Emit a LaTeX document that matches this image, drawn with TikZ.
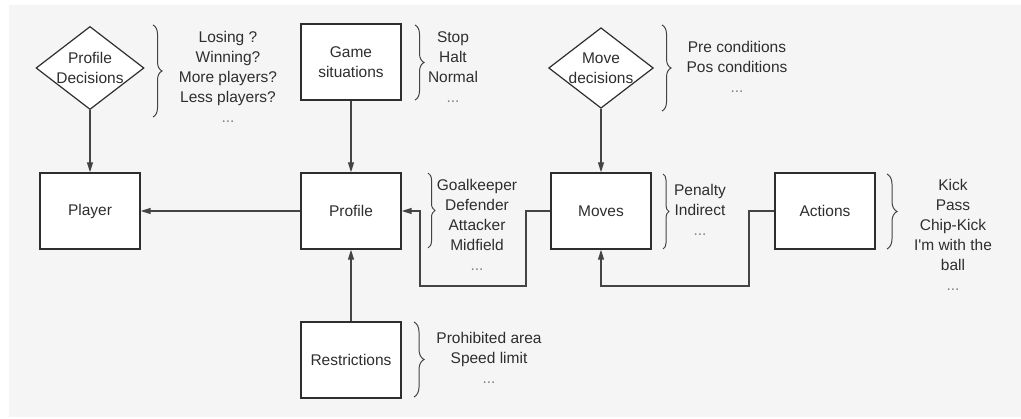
\documentclass[tikz,border=0pt]{standalone}
\usepackage{fontspec}
\setmainfont{Liberation Sans}
\usetikzlibrary{shapes.geometric,arrows.meta,decorations.pathreplacing}
\definecolor{bggray}{HTML}{F5F5F5}
\definecolor{ink}{HTML}{2E2E2E}
\definecolor{wire}{HTML}{444444}
\newcommand{\etcdots}{{\color{gray}...}}
\begin{document}
\begin{tikzpicture}[x=1pt,y=-1pt,
  every node/.style={font=\fontsize{15.5}{20}\selectfont, text=ink},
  box/.style={draw=ink, line width=1.4pt, fill=white, minimum width=100pt, minimum height=76pt, inner sep=0pt},
  choice/.style={diamond, draw=ink, line width=1.2pt, fill=white, aspect=1.3, inner sep=0pt, align=center},
  link/.style={draw=wire, line width=1.2pt, -{Triangle[length=10pt,width=6pt]}},
  note/.style={anchor=north, inner sep=0pt, align=center},
  curly/.style={draw=wire, line width=1pt, decorate, decoration={brace, amplitude=#1}}]
\useasboundingbox (0,0) rectangle (1021,419);
\fill[white] (0,0) rectangle (1021,419);
\fill[bggray] (9,5) rectangle (1021,417);
\node[choice] (pdec) at (90,68) {Profile\\Decisions};
\node[box] (game) at (351,62) {};
\node[align=center] at (game) {Game\\situations};
\node[choice] (mdec) at (601,68) {Move\\decisions};
\node[box] (player) at (90,211) {Player};
\node[box] (profile) at (351,211) {Profile};
\node[box] (moves) at (601,211) {Moves};
\node[box] (actions) at (825,211) {Actions};
\node[box] (restr) at (351,360) {Restrictions};
\coordinate (mbend) at (526,286);
\coordinate (pbend) at (420,286);
\coordinate (abend) at (749,286);
\draw[link] (pdec.south) -- (player.north);
\draw[link] (game.south) -- (profile.north);
\draw[link] (mdec.south) -- (moves.north);
\draw[link] (restr.north) -- (profile.south);
\draw[link] (profile.west) -- (player.east);
\draw[link] (moves.west) -| (mbend) -- (pbend) |- (profile.east);
\draw[link] (actions.west) -| (abend) -| (moves.south);
\draw[curly=9pt] (153,25) -- (153,117);
\draw[curly=9pt] (415,25) -- (415,100);
\draw[curly=9pt] (662,25) -- (662,111);
\draw[curly=7pt] (428,173) -- (428,248);
\draw[curly=6pt] (663,174) -- (663,249);
\draw[curly=10pt] (887,174) -- (887,249);
\draw[curly=10pt] (414,322) -- (414,397);
\node[note] (pdecnote) at (228,31) {Losing ?\\Winning?\\More players?\\Less players?\\\etcdots};
\node[note] (gamenote) at (453,31) {Stop\\Halt\\Normal\\\etcdots};
\node[note] (mdecnote) at (737,41) {Pre conditions\\Pos conditions\\\etcdots};
\node[note] (profnote) at (477,179) {Goalkeeper\\Defender\\Attacker\\Midfield\\\etcdots};
\node[note] (movenote) at (700,184) {Penalty\\Indirect\\\etcdots};
\node[note] (actnote) at (953,179) {Kick\\Pass\\Chip-Kick\\I\textquotesingle m with the\\ball\\\etcdots};
\node[note] (restnote) at (489,332) {Prohibited area\\Speed limit\\\etcdots};
\end{tikzpicture}
\end{document}
